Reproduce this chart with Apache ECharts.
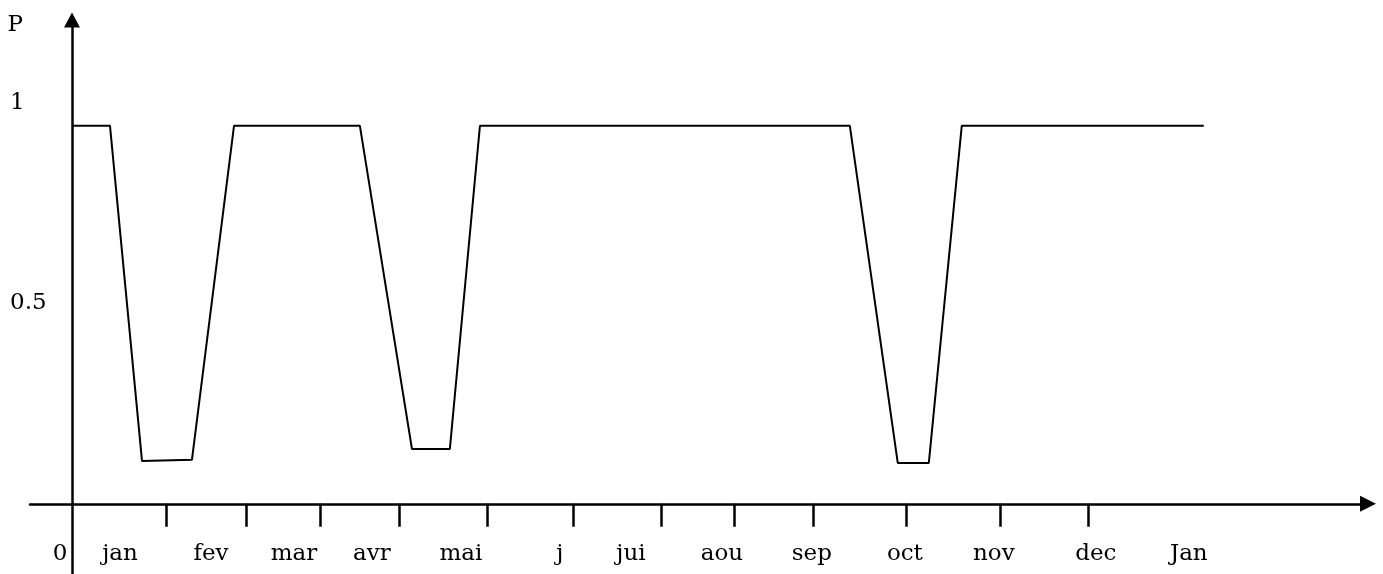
<!DOCTYPE html>
<html lang="fr">
	<head>
		<meta charset="UTF-8">
		<script src="https://cdn.jsdelivr.net/npm/echarts@6/dist/echarts.min.js" type="text/javascript"></script>
		<title>P</title>
		<style>
			html, body { margin: 0; padding: 0; background: #fff; }
			#main { width: 1383px; height: 574px; }
		</style>
	</head>
	<body>
		<div id="main"></div>
		<script type="text/javascript">
			// temps en mois (0 = origine), P entre 0 et 1
			var timePoints = [0, 0.449, 0.827, 1.417, 1.914, 3.401, 4.016, 4.464, 4.819, 9.189, 9.755, 10.122, 10.511, 13.37];
			var pValues = [0.943, 0.943, 0.107, 0.11, 0.943, 0.943, 0.137, 0.137, 0.943, 0.943, 0.102, 0.102, 0.943, 0.943];

			// graduations de l'axe du temps
			var tickMonths = [1.11, 2.06, 2.93, 3.87, 4.90, 5.92, 6.96, 7.82, 8.76, 9.86, 10.97, 12.0];
			// libellés des mois (position du texte, pas forcément sur la graduation)
			var monthNames = ['0', 'jan', 'fev', 'mar', 'avr', 'mai', 'j', 'jui', 'aou', 'sep', 'oct', 'nov', 'dec', 'Jan'];
			var monthLabelPos = [-0.14, 0.567, 1.642, 2.622, 3.543, 4.594, 5.764, 6.603, 7.677, 8.740, 9.839, 10.890, 12.094, 13.193];

			var pTicks = [0.5, 1];
			var pLabels = ['0.5', '1'];

			var font = 'DejaVu Serif';
			var chart = echarts.init(document.getElementById('main'), null, { renderer: 'canvas' });

			var points = [];
			for (var i = 0; i < timePoints.length; i++) {
				points.push([timePoints[i], pValues[i]]);
			}

			var option = {
				animation: false,
				backgroundColor: '#ffffff',
				grid: {
					left: 30,
					right: 15,
					top: 20,
					bottom: 0,
					containLabel: false,
					outerBoundsMode: 'none'
				},
				xAxis: {
					type: 'value',
					min: -0.496,
					max: 15.31,
					splitLine: { show: false },
					axisLine: {
						show: true,
						onZero: true,
						symbol: ['none', 'triangle'],
						symbolSize: [16, 16],
						lineStyle: { color: '#000', width: 2.5 }
					},
					axisTick: {
						show: true,
						length: 23,
						customValues: tickMonths,
						lineStyle: { color: '#000', width: 2.5 }
					},
					axisLabel: {
						show: true,
						customValues: monthLabelPos,
						// les libellés se placent depuis le bas de la grille
						margin: -31,
						color: '#000',
						fontFamily: font,
						fontSize: 23,
						formatter: function(v) {
							for (var k = 0; k < monthLabelPos.length; k++) {
								if (Math.abs(monthLabelPos[k] - v) < 1e-6) return monthNames[k];
							}
							return '';
						}
					}
				},
				yAxis: {
					type: 'value',
					min: -0.175,
					max: 1.207,
					name: 'P',
					nameLocation: 'end',
					nameGap: -17,
					nameTextStyle: {
						color: '#000',
						fontFamily: font,
						fontSize: 23,
						align: 'right',
						padding: [0, 49, 0, 0]
					},
					splitLine: { show: false },
					axisLine: {
						show: true,
						onZero: true,
						symbol: ['none', 'triangle'],
						symbolSize: [16, 15],
						lineStyle: { color: '#000', width: 2.5 }
					},
					axisTick: { show: false },
					axisLabel: {
						show: true,
						customValues: pTicks,
						align: 'left',
						margin: 20,
						color: '#000',
						fontFamily: font,
						fontSize: 23,
						formatter: function(v) {
							for (var k = 0; k < pTicks.length; k++) {
								if (Math.abs(pTicks[k] - v) < 1e-6) return pLabels[k];
							}
							return '';
						}
					}
				},
				series: [{
					type: 'line',
					data: points,
					showSymbol: false,
					lineStyle: { color: '#000', width: 2 }
				}]
			};
			chart.setOption(option);
		</script>
	</body>
</html>
